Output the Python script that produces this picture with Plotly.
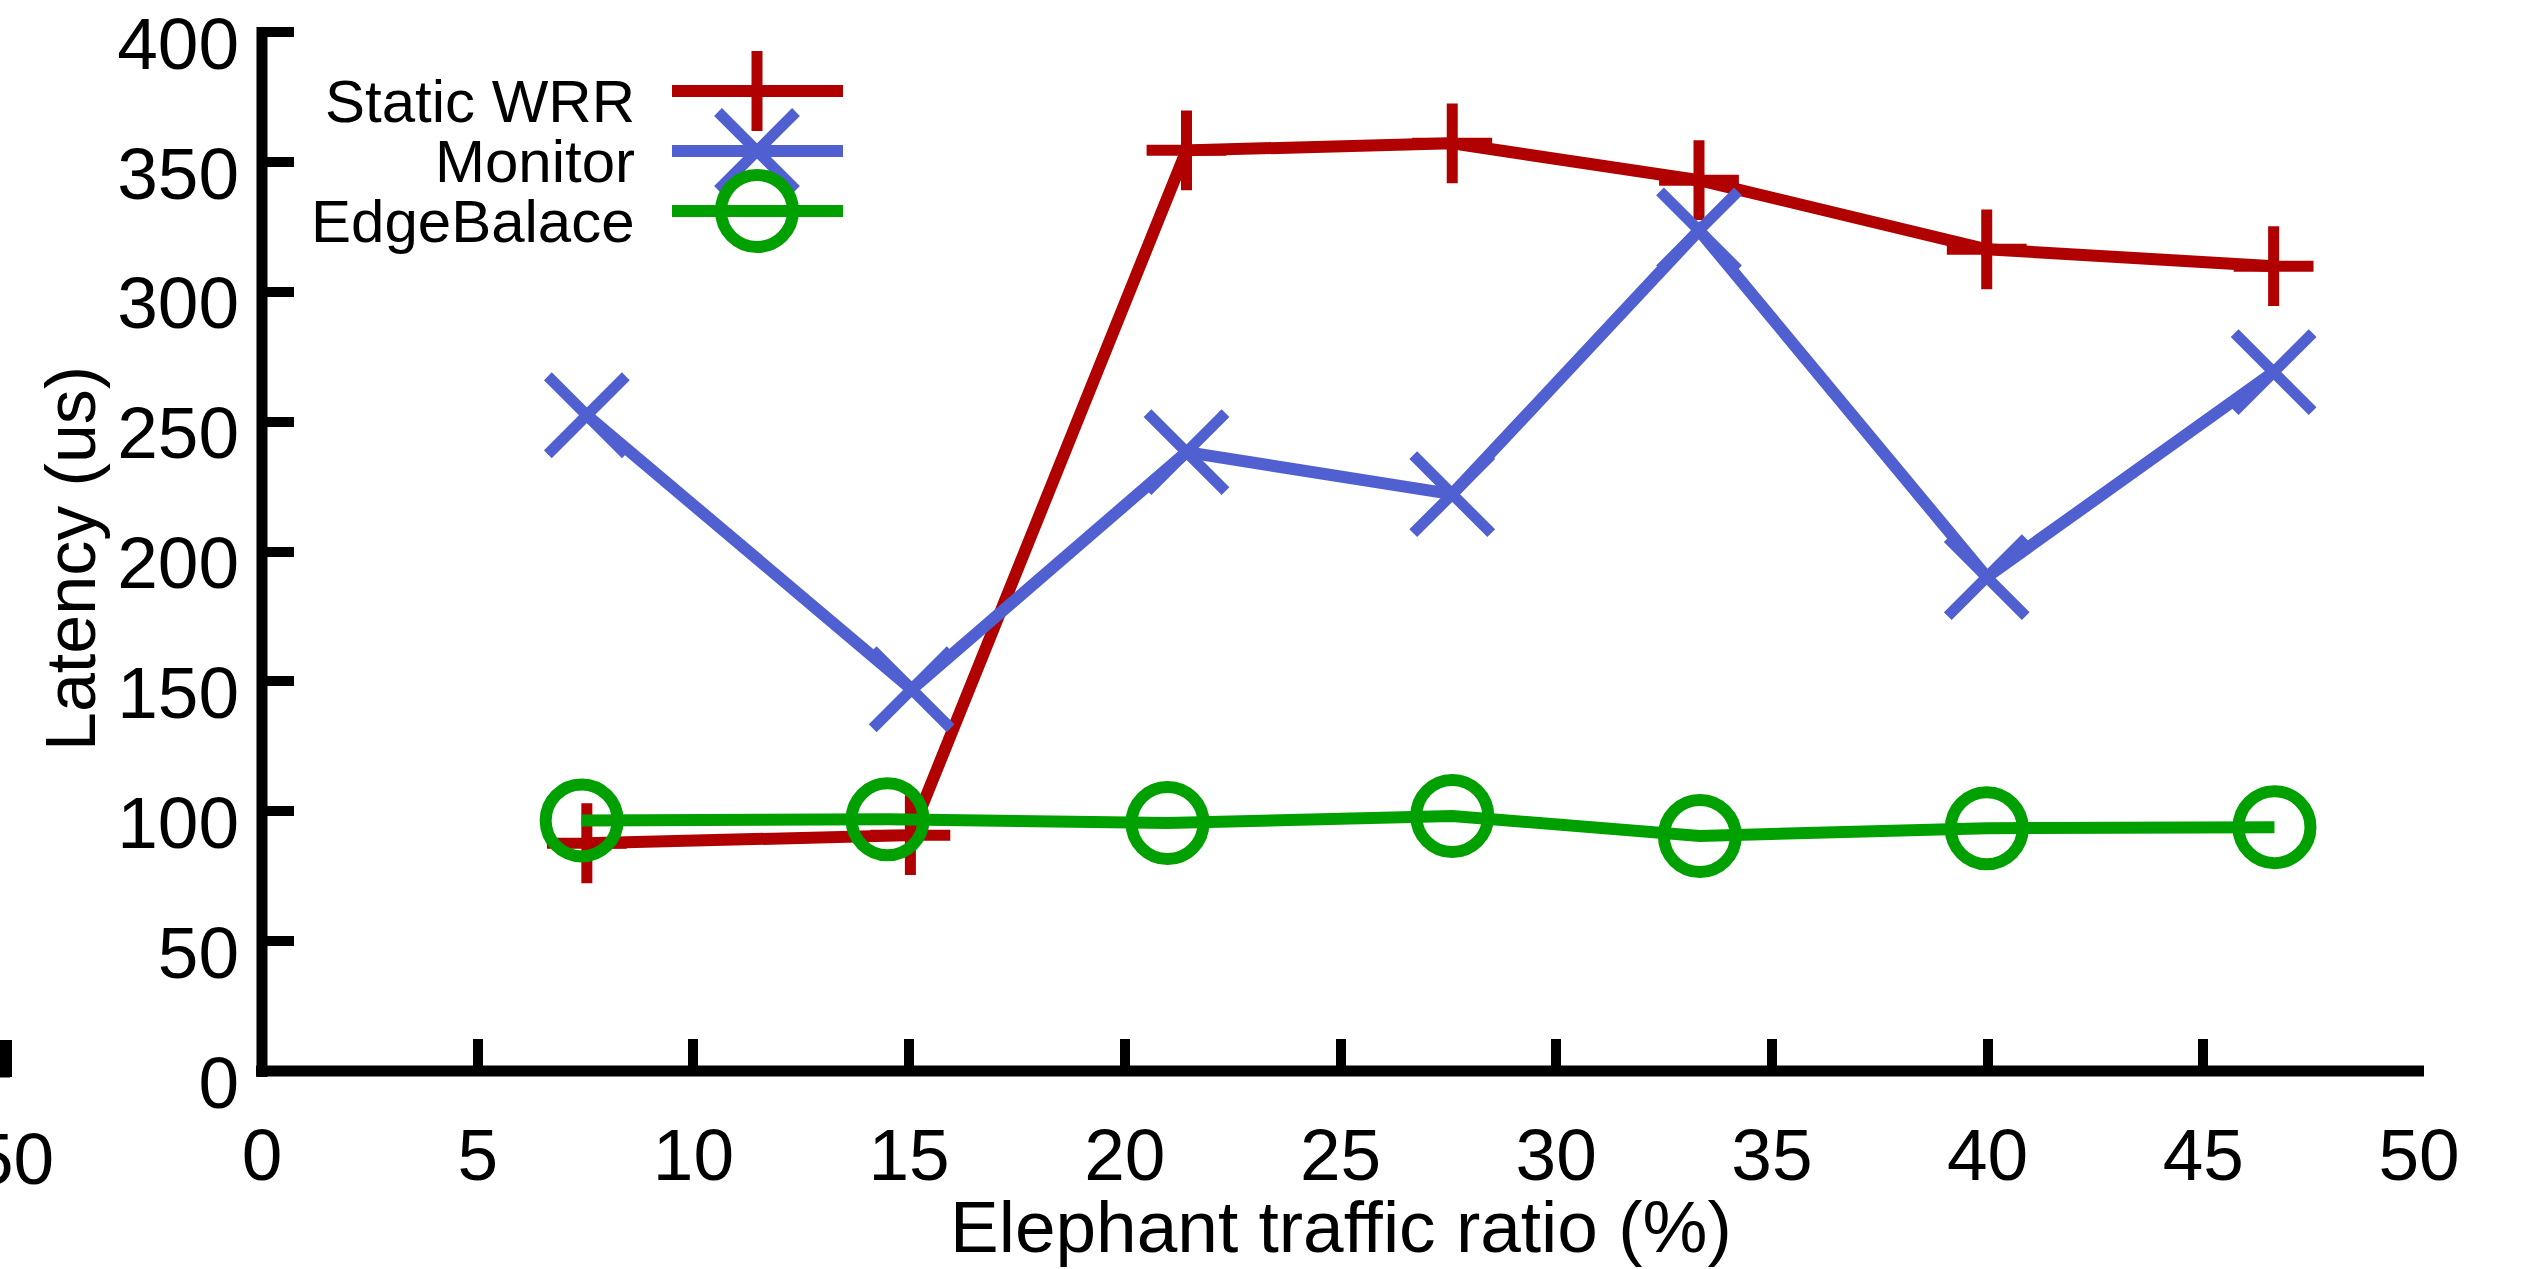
import plotly.graph_objects as go

# ---------------- data ----------------
series_names = ["Static WRR", "Monitor", "EdgeBalace"]

static_x = [7.53, 15.03, 21.43, 27.59, 33.31, 39.98, 46.63]
static_y = [87.7, 90.8, 354.5, 357.2, 343.0, 316.4, 309.9]

monitor_x = [7.53, 15.06, 21.43, 27.59, 33.31, 39.98, 46.63]
monitor_y = [252.5, 147.0, 238.3, 222.1, 323.7, 190.2, 269.1]

edge_x = [7.41, 14.50, 20.99, 27.59, 33.33, 39.98, 46.65]
edge_y = [96.5, 96.9, 95.5, 98.2, 90.5, 93.5, 93.9]

x_ticks = [0, 5, 10, 15, 20, 25, 30, 35, 40, 45, 50]
y_ticks = [0, 50, 100, 150, 200, 250, 300, 350, 400]

x_title = "Elephant traffic ratio (%)"
y_title = "Latency (us)"

# ---------------- style ----------------
W, H = 2525, 1269
Y_TOP = 402          # small head-room so the 400 tick is kept
ML, MR, MB = 262, 106, 198
PX_PER_Y = (1071 - 32) / 400.0
MT = round(32 - (Y_TOP - 400) * PX_PER_Y)
PW, PH = W - ML - MR, H - MT - MB

RED = "#B00000"
BLUE = "#5060D0"
GREEN = "#00A000"
FONT = "Liberation Sans, Arial, Helvetica, sans-serif"
LW = 12
AXLW = 11


def paper_x(px):
    return (px - ML) / PW


def paper_y(py):
    return (H - MB - py) / PH


styles = [
    dict(color=RED, symbol="cross-thin", size=57, mlw=11),
    dict(color=BLUE, symbol="x-thin", size=78, mlw=11),
    dict(color=GREEN, symbol="circle-open", size=72, mlw=12),
]
data = [(static_x, static_y), (monitor_x, monitor_y), (edge_x, edge_y)]

fig = go.Figure()
for name, (xs, ys), st in zip(series_names, data, styles):
    fig.add_trace(go.Scatter(
        x=xs, y=ys, name=name, mode="lines+markers",
        line=dict(color=st["color"], width=LW),
        marker=dict(symbol=st["symbol"], size=st["size"], color=st["color"],
                    line=dict(color=st["color"], width=st["mlw"])),
        showlegend=False, cliponaxis=False,
    ))

# ---------------- gnuplot-style key (text right, sample left->right) --------
key_rows_y = [91, 151, 211]
key_text_right = 637
key_line = (672, 843)
key_mark = 757
for name, st, ky in zip(series_names, styles, key_rows_y):
    fig.add_trace(go.Scatter(
        x=list(key_line), y=[ky, ky], xaxis="x2", yaxis="y2", mode="lines",
        line=dict(color=st["color"], width=LW), showlegend=False, hoverinfo="skip"))
    fig.add_trace(go.Scatter(
        x=[key_mark], y=[ky], xaxis="x2", yaxis="y2", mode="markers",
        marker=dict(symbol=st["symbol"], size=st["size"], color=st["color"],
                    line=dict(color=st["color"], width=st["mlw"])),
        showlegend=False, hoverinfo="skip", cliponaxis=False))
    fig.add_annotation(x=key_text_right, y=ky + 10, xref="x2", yref="y2",
                       text=name, showarrow=False, xanchor="right", yanchor="middle",
                       font=dict(family=FONT, size=60, color="black"))

# axis titles (gnuplot placement, y title overlaps tick labels)
fig.add_annotation(x=0.5, y=paper_y(1226), xref="paper", yref="paper",
                   text=x_title, showarrow=False, xanchor="center", yanchor="middle",
                   font=dict(family=FONT, size=73, color="black"))
fig.add_annotation(x=paper_x(71), y=paper_y(559), xref="paper", yref="paper",
                   text=y_title, showarrow=False, textangle=-90,
                   xanchor="center", yanchor="middle",
                   font=dict(family=FONT, size=70, color="black"))

# border lines centred on the data origin (gnuplot style)
fig.add_shape(type="line", xref="paper", yref="paper",
              x0=0, x1=0, y0=paper_y(H - MB + 6), y1=paper_y(27),
              line=dict(color="black", width=AXLW))
fig.add_shape(type="line", xref="paper", yref="paper",
              x0=paper_x(ML - 6), x1=paper_x(W - MR + 5), y0=0, y1=0,
              line=dict(color="black", width=AXLW))

# clipped neighbour-panel remnants at the far left
fig.add_annotation(x=paper_x(56), y=paper_y(1158), xref="paper", yref="paper",
                   text="50", showarrow=False, xanchor="right", yanchor="middle",
                   font=dict(family=FONT, size=73, color="black"))
fig.add_shape(type="line", xref="paper", yref="paper",
              x0=paper_x(6), x1=paper_x(6), y0=paper_y(1040), y1=paper_y(1077),
              line=dict(color="black", width=12))
fig.add_shape(type="line", xref="paper", yref="paper",
              x0=paper_x(-5), x1=paper_x(10), y0=paper_y(1072), y1=paper_y(1072),
              line=dict(color="black", width=11))

axis_font = dict(family=FONT, size=73, color="black")
fig.update_layout(
    width=W, height=H,
    margin=dict(l=ML, r=MR, t=MT, b=MB, pad=0, autoexpand=False),
    paper_bgcolor="white", plot_bgcolor="white",
    font=dict(family=FONT, color="black"),
    showlegend=False,
    xaxis=dict(range=[0, 50], tickmode="array", tickvals=x_ticks,
               ticktext=[str(v) for v in x_ticks], automargin=False,
               showgrid=False, zeroline=False, showline=False,
               ticks="inside", ticklen=32, tickwidth=10,
               tickcolor="black", tickfont=axis_font, ticklabelstandoff=35,
               ticklabeloverflow="allow"),
    yaxis=dict(range=[0, Y_TOP], tickmode="array", tickvals=y_ticks,
               ticktext=[str(v) for v in y_ticks], automargin=False,
               showgrid=False, zeroline=False, showline=False,
               ticks="inside", ticklen=32, tickwidth=10,
               tickcolor="black", tickfont=axis_font, ticklabelstandoff=22,
               ticklabelshift=11, ticklabeloverflow="allow"),
    xaxis2=dict(range=[ML, W - MR], overlaying="x", visible=False, anchor="y2"),
    yaxis2=dict(range=[H - MB, MT], overlaying="y", visible=False, anchor="x2"),
)

fig.write_html("out.html")
